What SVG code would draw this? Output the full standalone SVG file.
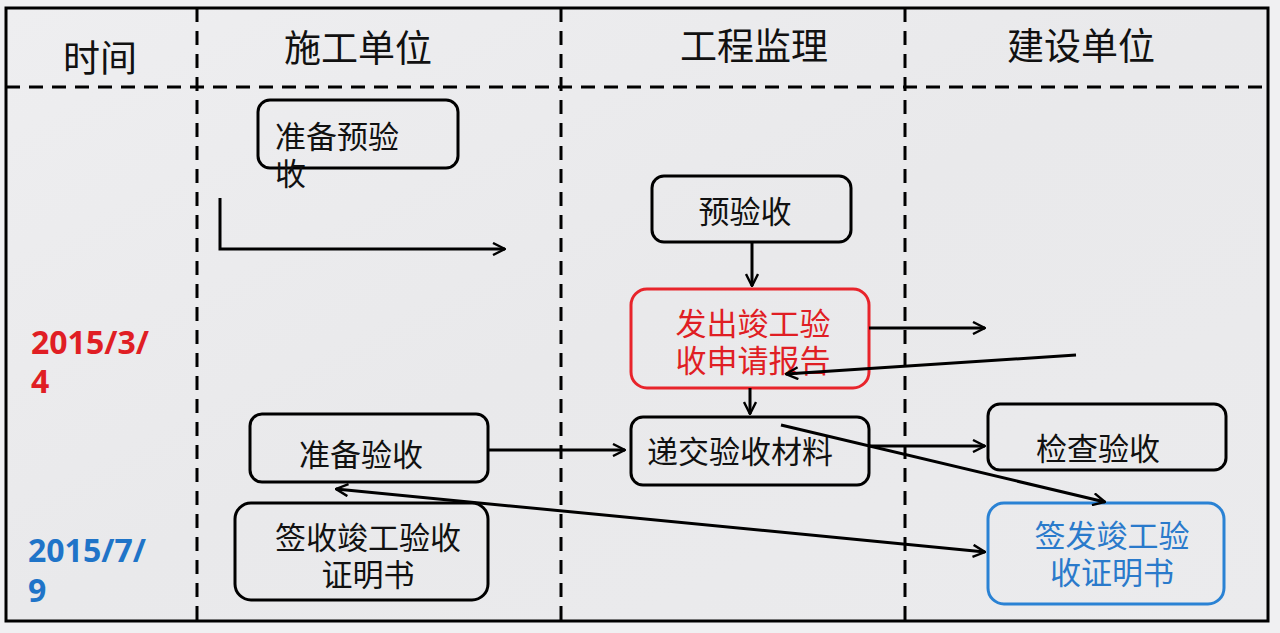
<svg xmlns="http://www.w3.org/2000/svg" width="1280" height="633" viewBox="0 0 1280 633">
<defs>
<linearGradient id="bg" x1="0" y1="0" x2="1" y2="1">
<stop offset="0" stop-color="#eeeef0"/>
<stop offset="0.5" stop-color="#e9e9eb"/>
<stop offset="1" stop-color="#ebebed"/>
</linearGradient>
<marker id="arr" viewBox="0 0 14 14" refX="13" refY="7" markerWidth="14" markerHeight="14" markerUnits="userSpaceOnUse" orient="auto-start-reverse">
<path d="M1,1 L13,7 L1,13" fill="none" stroke="#000" stroke-width="2.4" stroke-linejoin="miter"/>
</marker>
<style>
.dash{stroke:#000;stroke-width:3;stroke-dasharray:14 9;fill:none}
.box{fill:none;stroke:#000;stroke-width:3}
.t{font-family:"Noto Sans CJK SC","Noto Sans",sans-serif;font-size:31px;fill:#111}
.h{font-family:"Noto Sans CJK SC","Noto Sans",sans-serif;font-size:37px;fill:#111;text-anchor:middle}
.d{font-family:"Open Sans","Noto Sans",sans-serif;font-size:32px;font-weight:bold}
.c{stroke:#000;stroke-width:3;fill:none}
</style>
</defs>
<rect x="0" y="0" width="1280" height="633" fill="#f0f0f2"/>
<rect x="6" y="8" width="1262" height="613" fill="url(#bg)" stroke="#000" stroke-width="3"/>
<g id="grid">
<line class="dash" x1="6" y1="87" x2="1268" y2="87"/>
<line class="dash" x1="197" y1="8" x2="197" y2="621"/>
<line class="dash" x1="561" y1="8" x2="561" y2="621"/>
<line class="dash" x1="905" y1="8" x2="905" y2="621"/>
</g>
<g id="headers">
<text class="h" x="100" y="72">时间</text>
<text class="h" x="358" y="62">施工单位</text>
<text class="h" x="754" y="60">工程监理</text>
<text class="h" x="1081" y="60">建设单位</text>
</g>
<g id="dates">
<text class="d" x="31" y="354" fill="#e01e24">2015/3/</text>
<text class="d" x="31" y="393" fill="#e01e24">4</text>
<text class="d" x="28" y="562" fill="#1f74c8">2015/7/</text>
<text class="d" x="28" y="602" fill="#1f74c8">9</text>
</g>
<g id="n1">
<rect class="box" x="258" y="100" width="200" height="68" rx="12"/>
<text class="t" x="275" y="148">准备预验</text>
<text class="t" x="275" y="185">收</text>
</g>
<g id="n2">
<rect class="box" x="652" y="176" width="199" height="66" rx="12"/>
<text class="t" x="745" y="223" text-anchor="middle">预验收</text>
</g>
<g id="n3">
<rect x="631" y="289" width="238" height="99" rx="16" fill="none" stroke="#e8242b" stroke-width="3"/>
<text class="t" x="753" y="335" text-anchor="middle" style="fill:#e01e24">发出竣工验</text>
<text class="t" x="753" y="372" text-anchor="middle" style="fill:#e01e24">收申请报告</text>
</g>
<g id="n4">
<rect class="box" x="631" y="417" width="238" height="68" rx="12"/>
<text class="t" x="740" y="463" text-anchor="middle">递交验收材料</text>
</g>
<g id="n5">
<rect class="box" x="250" y="414" width="238" height="68" rx="12"/>
<text class="t" x="361" y="466" text-anchor="middle">准备验收</text>
</g>
<g id="n6">
<rect class="box" x="988" y="404" width="238" height="66" rx="12"/>
<text class="t" x="1098" y="460" text-anchor="middle">检查验收</text>
</g>
<g id="n7">
<rect class="box" x="235" y="503" width="253" height="97" rx="16"/>
<text class="t" x="368" y="549" text-anchor="middle">签收竣工验收</text>
<text class="t" x="368" y="586" text-anchor="middle">证明书</text>
</g>
<g id="n8">
<rect x="988" y="503" width="236" height="101" rx="16" fill="none" stroke="#2a82d4" stroke-width="3"/>
<text class="t" x="1112" y="547" text-anchor="middle" style="fill:#2a7acb">签发竣工验</text>
<text class="t" x="1112" y="584" text-anchor="middle" style="fill:#2a7acb">收证明书</text>
</g>
<g id="connectors">
<path class="c" d="M220,198 L220,249 L505,249" marker-end="url(#arr)"/>
<line class="c" x1="752" y1="242" x2="752" y2="286" marker-end="url(#arr)"/>
<line class="c" x1="869" y1="328" x2="985" y2="328" marker-end="url(#arr)"/>
<line class="c" x1="1076" y1="355" x2="786" y2="374" marker-end="url(#arr)"/>
<line class="c" x1="750" y1="388" x2="750" y2="414" marker-end="url(#arr)"/>
<line class="c" x1="488" y1="450" x2="625" y2="450" marker-end="url(#arr)"/>
<line class="c" x1="869" y1="446" x2="985" y2="446" marker-end="url(#arr)"/>
<line class="c" x1="781" y1="425" x2="1105" y2="502" marker-end="url(#arr)"/>
<line class="c" x1="336" y1="489" x2="985" y2="552" marker-start="url(#arr)" marker-end="url(#arr)"/>
</g>
</svg>
